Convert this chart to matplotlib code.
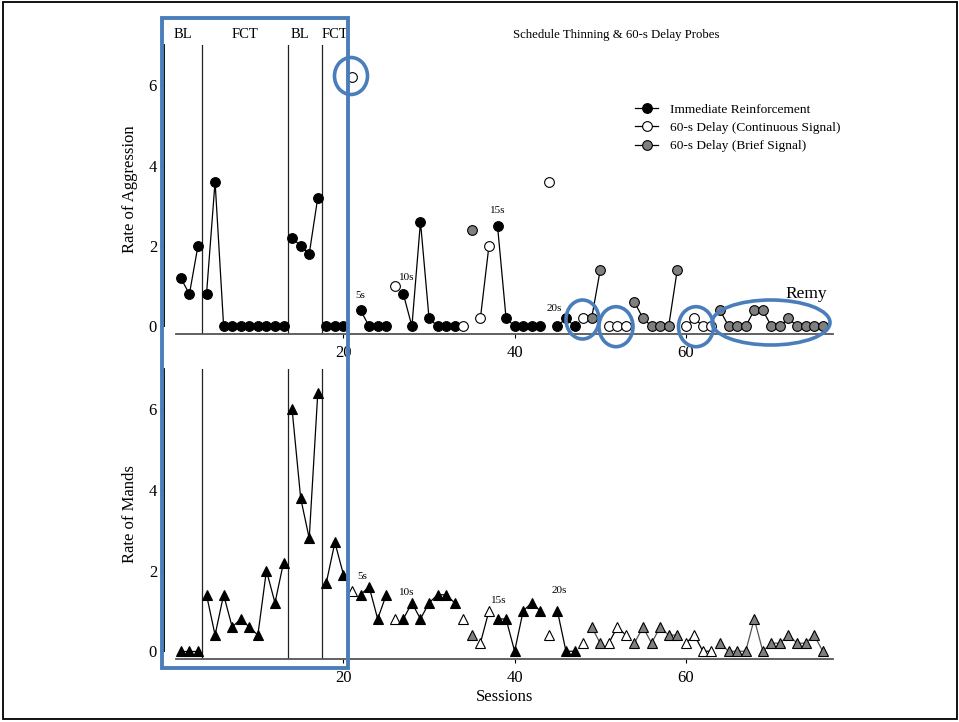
import numpy as np
import matplotlib
matplotlib.use("Agg")
import matplotlib.pyplot as plt
from matplotlib.lines import Line2D
from matplotlib.patches import Rectangle, Ellipse
from matplotlib.transforms import blended_transform_factory

plt.rcParams['font.family'] = ['Liberation Serif', 'DejaVu Serif']

W, H = 959, 722

# session data (sessions 1-76)
sessions = np.arange(1, 77)
# I = immediate reinforcement, C = 60-s delay continuous signal, B = 60-s delay brief signal
condition = list("IIIIIIIIIIIIIIIIIIII" "CIIIICIIIIIIICBCCIIIIIICIIICBBCCCBBBBBBCCCCBBBBBBBBBBBBB")
aggression = [1.2, 0.8, 2.0, 0.8, 3.6, 0, 0, 0, 0, 0, 0, 0, 0, 2.2, 2.0, 1.8, 3.2, 0, 0, 0,
              6.2, 0.4, 0, 0, 0, 1.0, 0.8, 0, 2.6, 0.2, 0, 0, 0, 0, 2.4, 0.2, 2.0, 2.5, 0.2, 0,
              0, 0, 0, 3.6, 0, 0.2, 0, 0.2, 0.2, 1.4, 0, 0, 0, 0.6, 0.2, 0, 0, 0, 1.4, 0,
              0.2, 0, 0, 0.4, 0, 0, 0, 0.4, 0.4, 0, 0, 0.2, 0, 0, 0, 0]
mands = [0, 0, 0, 1.4, 0.4, 1.4, 0.6, 0.8, 0.6, 0.4, 2.0, 1.2, 2.2, 6.0, 3.8, 2.8, 6.4, 1.7, 2.7, 1.9,
         1.5, 1.4, 1.6, 0.8, 1.4, 0.8, 0.8, 1.2, 0.8, 1.2, 1.4, 1.4, 1.2, 0.8, 0.4, 0.2, 1.0, 0.8, 0.8, 0,
         1.0, 1.2, 1.0, 0.4, 1.0, 0, 0, 0.2, 0.6, 0.2, 0.2, 0.6, 0.4, 0.2, 0.6, 0.2, 0.6, 0.4, 0.4, 0.2,
         0.4, 0, 0, 0.2, 0, 0, 0, 0.8, 0, 0.2, 0.2, 0.4, 0.2, 0.2, 0.4, 0]
phase_lines = [3.5, 13.5, 17.5, 20.5]
phase_labels = [("BL", 1.3), ("FCT", 8.5), ("BL", 14.9), ("FCT", 19.0)]
top_notes = [("5s", 22, 0.66), ("10s", 27.4, 1.1), ("15s", 38, 2.76), ("20s", 44.6, 0.33)]
bottom_notes = [("5s", 22.2, 1.73), ("10s", 27.4, 1.35), ("15s", 38.2, 1.15), ("20s", 45.2, 1.4)]

fills = {'I': 'black', 'C': 'white', 'B': '#7f7f7f'}
labels = {'I': 'Immediate Reinforcement', 'C': '60-s Delay (Continuous Signal)',
          'B': '60-s Delay (Brief Signal)'}
blue = '#4a7ebb'


def runs():
    # split sessions into connected runs: same condition, same phase
    out = []
    start = 0
    for i in range(1, len(sessions) + 1):
        brk = i == len(sessions)
        if not brk:
            brk = condition[i] != condition[start] or any(sessions[i - 1] < p < sessions[i] for p in phase_lines)
        if brk:
            out.append((start, i, condition[start]))
            start = i
    return out


def fig_box(x0, y0, x1, y1):
    return [x0 / W, 1 - y1 / H, (x1 - x0) / W, (y1 - y0) / H]


fig = plt.figure(figsize=(W / 100, H / 100), dpi=100, facecolor='white')
ax_top = fig.add_axes(fig_box(175.7, 45, 833, 334.3))
ax_bot = fig.add_axes(fig_box(175.7, 369, 833, 659.3))

for ax, vals, mk, ms, notes in [(ax_top, aggression, 'o', 7.0, top_notes),
                                (ax_bot, mands, '^', 7.4, bottom_notes)]:
    for s, e, c in runs():
        lc = '#555555' if (ax is ax_bot and c == 'B') else 'black'
        ax.plot(sessions[s:e], vals[s:e], color=lc, lw=0.9, marker=mk, ms=ms,
                mfc=fills[c], mec='black', mew=0.8, zorder=3)
    for p in phase_lines:
        ax.axvline(p, color='#222222', lw=0.9, zorder=1)
    for txt, x, y in notes:
        ax.text(x, y, txt, ha='center', va='bottom', fontsize=8)
    ax.set_xlim(0.4, 77.2)
    ax.set_ylim(-0.2, 7)
    ax.set_yticks([0, 2, 4, 6])
    ax.set_xticks([20, 40, 60])
    for side in ['top', 'right']:
        ax.spines[side].set_visible(False)
    ax.spines['left'].set_position(('outward', 8.4))
    ax.spines['left'].set_bounds(0, 7)
    ax.spines['left'].set_linewidth(1.3)
    ax.spines['bottom'].set_color('#555555')
    ax.spines['bottom'].set_linewidth(1.3)
    ax.tick_params(axis='both', direction='out', length=3, width=0.8, labelsize=12, pad=2)
    ax.tick_params(axis='x', pad=5)
    ax.patch.set_alpha(0)

ax_top.set_ylabel("Rate of Aggression", fontsize=12, labelpad=8)
ax_bot.set_ylabel("Rate of Mands", fontsize=12, labelpad=8)
ax_bot.set_xlabel("Sessions", fontsize=12, labelpad=2)

trans = blended_transform_factory(ax_top.transData, ax_top.transAxes)
for txt, x in phase_labels:
    ax_top.text(x, 1.035, txt, transform=trans, ha='center', va='center', fontsize=10.5)
ax_top.text(51.9, 1.035, "Schedule Thinning & 60-s Delay Probes", transform=trans,
            ha='center', va='center', fontsize=9.2)

handles = [Line2D([], [], color='black', lw=0.9, marker='o', ms=7, mfc=fills[c], mec='black', mew=0.8)
           for c in 'ICB']
fig.legend(handles, [labels[c] for c in 'ICB'], loc='upper left', bbox_to_anchor=(630 / W, 1 - 98 / H),
           frameon=False, fontsize=9.6, handlelength=1.7, handletextpad=0.9, labelspacing=0.45,
           borderaxespad=0)

# blue annotation marks
fig.add_artist(Rectangle((162 / W, 1 - 668 / H), 186 / W, 650 / H, transform=fig.transFigure,
                         fill=False, ec=blue, lw=2.8, zorder=10))
for cx, cy, w, h in [(351, 76, 33, 37), (582.5, 319.5, 33, 39), (616, 326.7, 34, 40),
                     (696, 326.7, 35, 40), (771, 322.5, 118, 45)]:
    fig.add_artist(Ellipse((cx / W, 1 - cy / H), w / W, h / H, transform=fig.transFigure,
                           fill=False, ec=blue, lw=2.6, zorder=10))
fig.text(806 / W, 1 - 294 / H, "Remy", ha='center', va='center', fontsize=12.5)

# outer frame
fig.add_artist(Rectangle((2.5 / W, 3.5 / H), 954 / W, 717 / H, transform=fig.transFigure,
                         fill=False, ec='black', lw=1.3))

fig.savefig("out.png", dpi=100)
